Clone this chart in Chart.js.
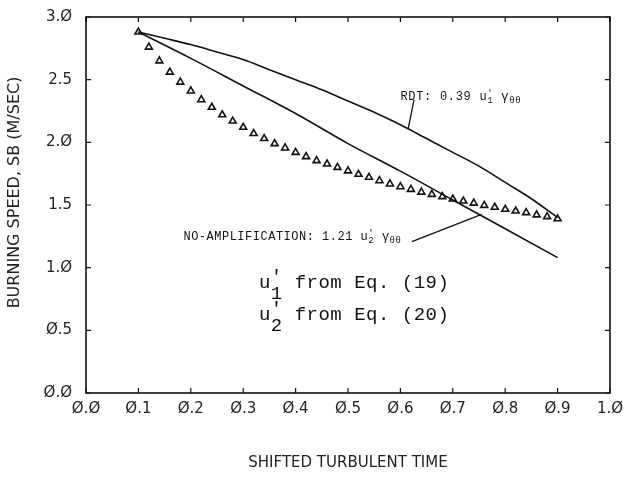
<!DOCTYPE html>
<html><head><meta charset="utf-8">
<script src="https://cdn.jsdelivr.net/npm/chart.js@4.4.1/dist/chart.umd.min.js"></script>
<style>html,body{margin:0;padding:0;background:#fff}#wrap{width:628px;height:480px}</style>
</head><body><div id="wrap"><canvas id="c" width="628" height="480"></canvas></div>
<script>
// ---- data ----
const xTickValues = [0.0,0.1,0.2,0.3,0.4,0.5,0.6,0.7,0.8,0.9,1.0];
const yTickValues = [0.0,0.5,1.0,1.5,2.0,2.5,3.0];
const xAxisTitle = 'SHIFTED TURBULENT TIME';
const yAxisTitle = 'BURNING SPEED, SB (M/SEC)';

// triangles (measured)
const triX = [0.10,0.12,0.14,0.16,0.18,0.20,0.22,0.24,0.26,0.28,0.30,0.32,0.34,0.36,0.38,0.40,0.42,0.44,0.46,0.48,0.50,
              0.52,0.54,0.56,0.58,0.60,0.62,0.64,0.66,0.68,0.70,0.72,0.74,0.76,0.78,0.80,0.82,0.84,0.86,0.88,0.90];
const triY = [2.88,2.76,2.65,2.56,2.48,2.41,2.34,2.28,2.22,2.17,2.12,2.07,2.03,1.99,1.955,1.92,1.886,1.854,1.827,1.80,1.772,
              1.745,1.721,1.694,1.668,1.646,1.625,1.603,1.585,1.567,1.548,1.532,1.515,1.497,1.482,1.466,1.452,1.439,1.421,1.407,1.39];

// RDT: 0.39 u1' gamma
const rdtX = [0.10,0.15,0.20,0.25,0.30,0.35,0.40,0.45,0.50,0.55,0.60,0.65,0.70,0.75,0.80,0.85,0.90];
const rdtY = [2.88,2.83,2.78,2.72,2.66,2.58,2.50,2.42,2.33,2.24,2.14,2.03,1.92,1.81,1.68,1.55,1.40];

// NO-AMPLIFICATION: 1.21 u2' gamma
const noAmpX = [0.10,0.20,0.30,0.40,0.50,0.60,0.70,0.80,0.90];
const noAmpY = [2.88,2.67,2.45,2.23,1.99,1.77,1.54,1.31,1.08];

// ---- helpers ----
const slash0 = s => s.replace(/0/g,'\u00D8');
const pts = (xs,ys) => xs.map((x,i)=>({x:x,y:ys[i]}));

function drawRich(ctx, x, y, parts, font, subFont, spacing) {
  ctx.save();
  ctx.textBaseline = 'alphabetic';
  ctx.textAlign = 'left';
  ctx.fillStyle = '#111';
  ctx.letterSpacing = spacing + 'px';
  let cx = x;
  parts.forEach(p => {
    if (p.t) {
      ctx.font = font;
      ctx.fillText(p.t, cx, y);
      cx += ctx.measureText(p.t).width;
    } else {
      ctx.font = subFont.f;
      let w = 0;
      if (p.sup) { ctx.fillText(p.sup, cx, y - subFont.up); w = Math.max(w, ctx.measureText(p.sup).width); }
      if (p.sub) { ctx.fillText(p.sub, cx, y + subFont.down); w = Math.max(w, ctx.measureText(p.sub).width); }
      cx += w;
    }
  });
  ctx.restore();
}

const framePlugin = {
  id: 'frame',
  afterDraw(chart) {
    const ctx = chart.ctx, a = chart.chartArea;
    const xs = chart.scales.x, ys = chart.scales.y;
    ctx.save();
    ctx.strokeStyle = '#111';
    ctx.lineWidth = 1.6;
    ctx.strokeRect(a.left, a.top, a.right - a.left, a.bottom - a.top);
    ctx.lineWidth = 1.2;
    const tl = 5;
    ctx.beginPath();
    xTickValues.forEach(v => {
      const px = xs.getPixelForValue(v);
      ctx.moveTo(px, a.bottom); ctx.lineTo(px, a.bottom - tl);
      ctx.moveTo(px, a.top); ctx.lineTo(px, a.top + tl);
    });
    yTickValues.forEach(v => {
      const py = ys.getPixelForValue(v);
      ctx.moveTo(a.left, py); ctx.lineTo(a.left + tl, py);
      ctx.moveTo(a.right, py); ctx.lineTo(a.right - tl, py);
    });
    ctx.stroke();

    // leader lines (data coords)
    ctx.lineWidth = 1.3;
    const L = (x1,y1,x2,y2) => { ctx.beginPath(); ctx.moveTo(xs.getPixelForValue(x1), ys.getPixelForValue(y1)); ctx.lineTo(xs.getPixelForValue(x2), ys.getPixelForValue(y2)); ctx.stroke(); };
    L(0.626, 2.34, 0.615, 2.112);
    L(0.622, 1.207, 0.755, 1.425);

    // y axis title
    ctx.save();
    ctx.translate(15, ys.getPixelForValue(1.6));
    ctx.rotate(-Math.PI / 2);
    ctx.font = '16px "DejaVu Sans", sans-serif';
    ctx.fillStyle = '#222';
    ctx.textAlign = 'center';
    ctx.textBaseline = 'middle';
    ctx.fillText(yAxisTitle, 0, 0);
    ctx.restore();
    ctx.restore();

    const small = '12px "Liberation Mono"';
    const smallSub = {f: '9px "Liberation Mono"', up: 4, down: 3};
    drawRich(ctx, xs.getPixelForValue(0.600), ys.getPixelForValue(2.335),
      [{t:'RDT: 0.39 u'},{sup:"'", sub:'1'},{t:' \u03B3'},{sub:'\u03B8\u03B8'}], small, smallSub, 0.7);
    drawRich(ctx, xs.getPixelForValue(0.186), ys.getPixelForValue(1.22),
      [{t:'NO-AMPLIFICATION: 1.21 u'},{sup:"'", sub:'2'},{t:' \u03B3'},{sub:'\u03B8\u03B8'}], small, smallSub, 0.5);

    const big = '19px "Liberation Mono"';
    const bigSub = {f: '19px "Liberation Mono"', up: 6, down: 11};
    drawRich(ctx, xs.getPixelForValue(0.330), ys.getPixelForValue(0.84),
      [{t:'u'},{sup:"'", sub:'1'},{t:' from Eq. (19)'}], big, bigSub, 0.5);
    drawRich(ctx, xs.getPixelForValue(0.330), ys.getPixelForValue(0.585),
      [{t:'u'},{sup:"'", sub:'2'},{t:' from Eq. (20)'}], big, bigSub, 0.5);
  }
};

const tickFont = {family: '"DejaVu Sans", sans-serif', size: 15};

new Chart(document.getElementById('c'), {
  type: 'scatter',
  data: {
    datasets: [
      { label: 'Triangles', data: pts(triX, triY), showLine: false,
        pointStyle: 'triangle', pointRadius: 4, pointBorderWidth: 1.6,
        borderColor: '#111', backgroundColor: 'rgba(0,0,0,0)', pointBackgroundColor: 'rgba(0,0,0,0)' },
      { label: 'RDT', data: pts(rdtX, rdtY), showLine: true, pointRadius: 0,
        borderColor: '#111', borderWidth: 1.6, cubicInterpolationMode: 'monotone' },
      { label: 'NO-AMPLIFICATION', data: pts(noAmpX, noAmpY), showLine: true, pointRadius: 0,
        borderColor: '#111', borderWidth: 1.6, cubicInterpolationMode: 'monotone' }
    ]
  },
  options: {
    responsive: false, animation: false, devicePixelRatio: 1,
    layout: { padding: { top: 17, right: 18, left: 0, bottom: 0 } },
    plugins: { legend: { display: false }, tooltip: { enabled: false } },
    scales: {
      x: {
        type: 'linear', min: 0, max: 1,
        afterBuildTicks: s => { s.ticks = xTickValues.map(v => ({value: v})); },
        ticks: { callback: v => slash0(v.toFixed(1)), font: tickFont, color: '#222', padding: 7, maxRotation: 0, autoSkip: false },
        grid: { display: false, drawTicks: false }, border: { display: false },
        title: { display: true, text: xAxisTitle, font: tickFont, color: '#222', padding: {top: 0, bottom: 8} },
        afterFit: s => { s.height = 87; s.paddingLeft = 0; s.paddingRight = 0; }
      },
      y: {
        type: 'linear', min: 0, max: 3,
        afterBuildTicks: s => { s.ticks = yTickValues.map(v => ({value: v})); },
        ticks: { callback: v => slash0(v.toFixed(1)), font: tickFont, color: '#222', padding: 14 },
        grid: { display: false, drawTicks: false }, border: { display: false },
        title: { display: false },
        afterFit: s => { s.width = 86; s.paddingTop = 0; s.paddingBottom = 0; }
      }
    }
  },
  plugins: [framePlugin]
});
</script>
</body></html>
